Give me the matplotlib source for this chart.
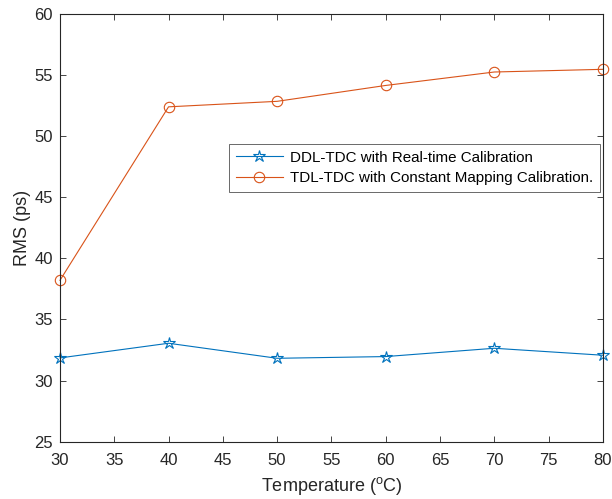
import matplotlib
matplotlib.use("Agg")
import matplotlib.pyplot as plt

# =========================
# 数据
# =========================
temperature = [30, 40, 50, 60, 70, 80]
ddl_rms = [31.85, 33.05, 31.82, 31.96, 32.64, 32.07]
tdl_rms = [38.2, 52.4, 52.85, 54.15, 55.25, 55.47]

labels = ["DDL-TDC with Real-time Calibration",
          "TDL-TDC with Constant Mapping Calibration."]

x_ticks = [30, 35, 40, 45, 50, 55, 60, 65, 70, 75, 80]
y_ticks = [25, 30, 35, 40, 45, 50, 55, 60]

plt.rcParams["font.family"] = ["Liberation Sans", "DejaVu Sans"]
plt.rcParams["mathtext.fontset"] = "custom"
plt.rcParams["mathtext.rm"] = "Liberation Sans"

axis_color = "#262626"
blue = "#0072BD"
orange = "#D95319"

fig = plt.figure(figsize=(6.12, 4.99), dpi=100)
ax = fig.add_axes([0.098, 0.115, 0.887, 0.857])

ax.plot(temperature, ddl_rms, color=blue, linewidth=0.8, marker="*",
        markersize=9, markerfacecolor="none", markeredgewidth=0.8,
        label=labels[0], clip_on=False)
ax.plot(temperature, tdl_rms, color=orange, linewidth=0.8, marker="o",
        markersize=7.5, markerfacecolor="none", markeredgewidth=0.8,
        label=labels[1], clip_on=False)

ax.set_xlim(30, 80)
ax.set_ylim(25, 60)
ax.set_xticks(x_ticks)
ax.set_yticks(y_ticks)

ax.tick_params(direction="in", top=True, right=True, length=4, width=0.6,
               colors=axis_color, labelsize=12)
ax.tick_params(axis="x", pad=8.5)
ax.tick_params(axis="y", pad=5)
for sp in ax.spines.values():
    sp.set_color(axis_color)
    sp.set_linewidth(0.8)

ax.set_xlabel("Temperature ($^{\\mathrm{o}}$C)", fontsize=13, color=axis_color, labelpad=5)
ax.set_ylabel("RMS (ps)", fontsize=13, color=axis_color, labelpad=2.5)

leg = ax.legend(loc="upper left", bbox_to_anchor=(0.311, 0.696), fontsize=10.9,
                frameon=True, fancybox=False, handlelength=3.1,
                borderpad=0.45, labelspacing=0.4, handletextpad=0.5,
                borderaxespad=0)
leg.get_frame().set_edgecolor(axis_color)
leg.get_frame().set_linewidth(0.6)
for t in leg.get_texts():
    t.set_color("black")

fig.savefig("out.png", dpi=100)
